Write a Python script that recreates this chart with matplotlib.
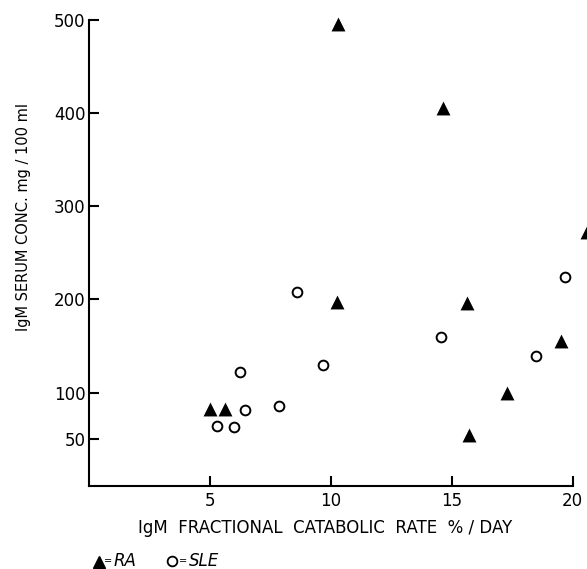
import numpy as np
import matplotlib
matplotlib.use('Agg')
import matplotlib.pyplot as plt
from matplotlib.lines import Line2D

# RA patients (filled triangles)
ra_rate = [5.0, 5.65, 10.3, 14.65, 10.25, 15.65, 15.7, 17.3, 19.5, 20.6]
ra_igm = [83, 82, 495, 405, 197, 196, 55, 100, 155, 272]
# SLE patients (open circles)
sle_rate = [5.3, 6.0, 6.27, 6.48, 7.85, 8.6, 9.7, 14.55, 18.5, 19.7]
sle_igm = [64, 63, 122, 81, 86, 208, 130, 160, 139, 224]

x_ticks = [5, 10, 15, 20]
y_ticks = [50, 100, 200, 300, 400, 500]

W, H = 587, 569
plt.rcParams['font.family'] = ['DejaVu Sans']
fig = plt.figure(figsize=(W / 100, H / 100), dpi=100)
ax = fig.add_axes([0.1508, 0.1459, 0.9756 - 0.1508, 0.9657 - 0.1459])

ax.scatter(ra_rate, ra_igm, marker='^', s=10**2, color='black', linewidths=0, clip_on=False, zorder=3)
ax.scatter(sle_rate, sle_igm, marker='o', s=7**2, facecolors='white', edgecolors='black', linewidths=1.4, clip_on=False, zorder=3)

ax.set_xlim(0, 20)
ax.set_ylim(0, 500)
ax.spines['top'].set_visible(False)
ax.spines['right'].set_visible(False)
ax.spines['left'].set_linewidth(1.5)
ax.spines['bottom'].set_linewidth(1.5)
ax.set_xticks(x_ticks)
ax.set_yticks(y_ticks)
ax.tick_params(direction='in', length=7, width=1.5, labelsize=12)
ax.tick_params(axis='y', pad=2)
ax.tick_params(axis='x', pad=4)

def px(x, y):
    return x / W, 1 - y / H

fig.text(*px(325, 528), 'IgM  FRACTIONAL  CATABOLIC  RATE  % / DAY', fontsize=12, ha='center', va='center')
fig.text(*px(24, 217), 'IgM SERUM CONC. mg / 100 ml', fontsize=10.5, rotation=90, ha='center', va='center')

# legend line under the axis
fig.add_artist(Line2D([px(99, 0)[0]], [px(0, 562)[1]], marker='^', markersize=9, color='black',
                      transform=fig.transFigure))
fig.text(*px(108, 561), '=', fontsize=7, ha='center', va='center')
fig.text(*px(114, 561), 'RA', fontsize=12, style='italic', ha='left', va='center')
fig.add_artist(Line2D([px(172, 0)[0]], [px(0, 561)[1]], marker='o', markersize=7, markerfacecolor='white',
                      markeredgecolor='black', markeredgewidth=1.3, transform=fig.transFigure))
fig.text(*px(183, 561), '=', fontsize=7, ha='center', va='center')
fig.text(*px(189, 561), 'SLE', fontsize=12, style='italic', ha='left', va='center')

fig.savefig('out.png', dpi=100)
